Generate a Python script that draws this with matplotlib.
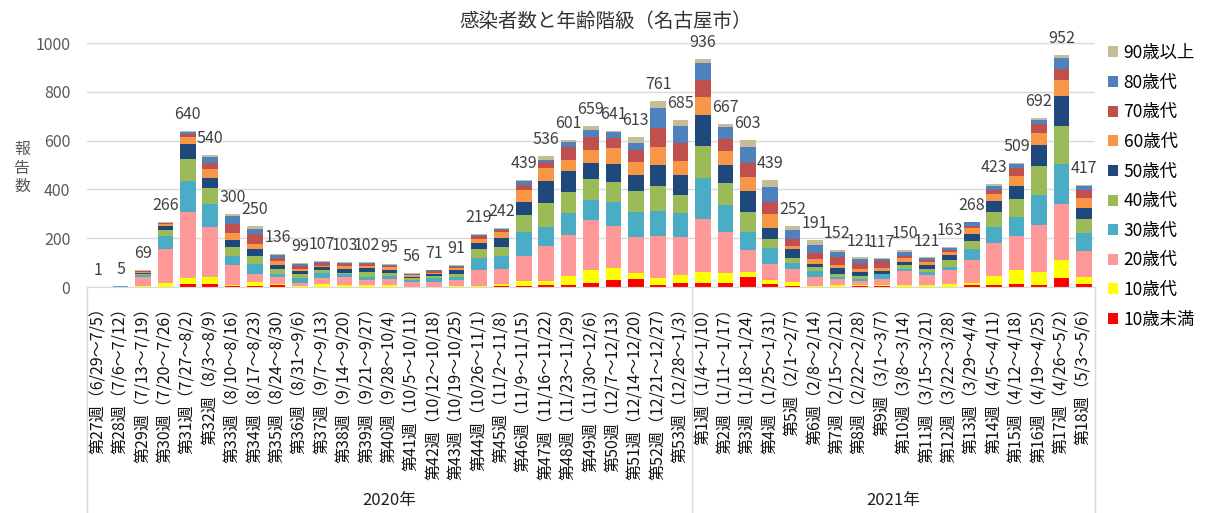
import matplotlib
matplotlib.use("Agg")
import matplotlib.pyplot as plt
import numpy as np

plt.rcParams['font.family'] = ['Noto Sans CJK JP', 'DejaVu Sans']

# week labels
weeks_2020 = ["第27週（6/29～7/5）", "第28週（7/6～7/12）", "第29週（7/13～7/19）", "第30週（7/20～7/26）",
              "第31週（7/27～8/2）", "第32週（8/3～8/9）", "第33週（8/10～8/16）", "第34週（8/17～8/23）",
              "第35週（8/24～8/30）", "第36週（8/31～9/6）", "第37週（9/7～9/13）", "第38週（9/14～9/20）",
              "第39週（9/21～9/27）", "第40週（9/28～10/4）", "第41週（10/5～10/11）", "第42週（10/12～10/18）",
              "第43週（10/19～10/25）", "第44週（10/26～11/1）", "第45週（11/2～11/8）", "第46週（11/9～11/15）",
              "第47週（11/16～11/22）", "第48週（11/23～11/29）", "第49週（11/30～12/6）", "第50週（12/7～12/13）",
              "第51週（12/14～12/20）", "第52週（12/21～12/27）", "第53週（12/28～1/3）"]
weeks_2021 = ["第1週（1/4～1/10）", "第2週（1/11～1/17）", "第3週（1/18～1/24）", "第4週（1/25～1/31）",
              "第5週（2/1～2/7）", "第6週（2/8～2/14）", "第7週（2/15～2/21）", "第8週（2/22～2/28）",
              "第9週（3/1～3/7）", "第10週（3/8～3/14）", "第11週（3/15～3/21）", "第12週（3/22～3/28）",
              "第13週（3/29～4/4）", "第14週（4/5～4/11）", "第15週（4/12～4/18）", "第16週（4/19～4/25）",
              "第17週（4/26～5/2）", "第18週（5/3～5/6）"]

# counts by age group (bottom to top)
u10 = [0, 0, 0, 1, 11, 12, 3, 5, 7, 1, 1, 1, 1, 1, 0, 0, 1, 1, 5, 3, 8, 8, 15, 29, 31, 7, 15,
       16, 16, 40, 11, 4, 1, 1, 5, 4, 1, 1, 1, 8, 7, 11, 10, 37, 11]
a10 = [0, 0, 4, 15, 26, 27, 4, 14, 7, 2, 11, 7, 7, 7, 1, 2, 2, 4, 7, 21, 15, 36, 53, 48, 27, 29, 33,
       44, 40, 22, 16, 16, 5, 6, 5, 4, 8, 6, 12, 7, 40, 58, 53, 73, 29]
a20 = [1, 1, 36, 138, 270, 205, 83, 36, 29, 13, 24, 31, 19, 25, 18, 17, 24, 64, 63, 105, 143, 168, 205, 172, 145, 175, 156,
       218, 169, 88, 67, 54, 36, 25, 15, 26, 57, 42, 56, 97, 133, 142, 193, 230, 109]
a30 = [0, 2, 8, 56, 129, 96, 38, 40, 10, 19, 22, 15, 16, 14, 11, 18, 14, 49, 51, 97, 78, 93, 85, 100, 105, 101, 100,
       170, 111, 74, 64, 23, 22, 11, 7, 18, 7, 11, 14, 45, 64, 74, 121, 163, 71]
a40 = [0, 2, 7, 25, 90, 64, 36, 34, 19, 19, 11, 5, 19, 10, 8, 10, 14, 38, 38, 69, 101, 86, 86, 82, 84, 103, 74,
       128, 90, 82, 40, 22, 16, 12, 14, 3, 16, 12, 29, 32, 63, 77, 119, 155, 59]
a50 = [0, 0, 3, 14, 62, 44, 30, 27, 18, 10, 12, 16, 16, 14, 5, 5, 14, 26, 38, 55, 88, 84, 64, 75, 67, 86, 79,
       130, 73, 89, 42, 37, 15, 21, 14, 12, 14, 19, 19, 29, 44, 53, 86, 126, 45]
a60 = [0, 0, 4, 8, 27, 36, 26, 21, 15, 11, 7, 11, 10, 10, 5, 7, 8, 16, 22, 48, 56, 44, 55, 64, 52, 74, 60,
       74, 60, 56, 60, 14, 19, 14, 14, 11, 15, 12, 14, 22, 30, 40, 48, 64, 41]
a70 = [0, 0, 3, 4, 14, 25, 37, 40, 15, 10, 12, 10, 7, 7, 3, 5, 7, 12, 10, 19, 23, 53, 52, 41, 49, 75, 75,
       67, 48, 59, 47, 26, 25, 32, 23, 27, 10, 8, 8, 11, 15, 33, 40, 47, 32]
a80 = [0, 0, 2, 3, 7, 25, 32, 22, 11, 11, 4, 4, 4, 4, 3, 4, 4, 5, 5, 18, 10, 21, 29, 23, 32, 82, 66,
       73, 49, 63, 62, 38, 34, 23, 19, 8, 14, 7, 5, 14, 19, 15, 15, 42, 15]
a90 = [0, 0, 2, 2, 4, 6, 11, 11, 5, 3, 3, 3, 3, 3, 2, 3, 3, 4, 3, 4, 14, 8, 15, 7, 21, 29, 27,
       16, 11, 30, 30, 18, 18, 7, 5, 4, 8, 3, 5, 3, 8, 6, 7, 15, 5]

totals = [1, 5, 69, 266, 640, 540, 300, 250, 136, 99, 107, 103, 102, 95, 56, 71, 91, 219, 242, 439, 536,
          601, 659, 641, 613, 761, 685, 936, 667, 603, 439, 252, 191, 152, 121, 117, 150, 121, 163, 268,
          423, 509, 692, 952, 417]

groups = ["10歳未満", "10歳代", "20歳代", "30歳代", "40歳代", "50歳代", "60歳代", "70歳代", "80歳代", "90歳以上"]
series = [u10, a10, a20, a30, a40, a50, a60, a70, a80, a90]
colors = ["#FF0000", "#FFFF00", "#FF9999", "#4BACC6", "#9BBB59", "#1F497D",
          "#F79646", "#C0504D", "#4F81BD", "#C4BD97"]

labels = weeks_2020 + weeks_2021
x = np.arange(len(labels))

fig = plt.figure(figsize=(12.1, 5.13), dpi=100)
ax = fig.add_axes([87 / 1210, 1 - 287 / 513, (1095 - 87) / 1210, (287 - 43) / 513])

bottom = np.zeros(len(x))
handles = []
for name, vals, c in zip(groups, series, colors):
    b = ax.bar(x, vals, 0.7, bottom=bottom, color=c, label=name, linewidth=0)
    handles.append(b)
    bottom += np.array(vals)

for i, t in enumerate(totals):
    ax.annotate(str(t), (x[i], bottom[i]), xytext=(0, 8.6), textcoords='offset points',
                ha='center', va='baseline', fontsize=11.5, color='#404040')

ax.set_xlim(-0.5, len(x) - 0.5)
ax.set_ylim(0, 1000)
ax.set_yticks(range(0, 1001, 200))
ax.yaxis.grid(True, color='#d9d9d9', linewidth=1)
ax.set_axisbelow(True)
for s in ['top', 'right', 'left']:
    ax.spines[s].set_visible(False)
ax.spines['bottom'].set_color('#d9d9d9')
ax.tick_params(axis='y', length=0, pad=12, labelsize=11.5, labelcolor='#595959')
ax.set_xticks(x)
ax.set_xticklabels(labels, rotation=90, fontsize=11.5, color='#111111')
ax.tick_params(axis='x', length=0, pad=9)

# year separators and labels under the category axis
tr = ax.get_xaxis_transform()
ybot = (287 - 513) / 244
for xv in [-0.5, 26.5, len(x) - 0.5]:
    ax.plot([xv, xv], [0, ybot], transform=tr, color='#d9d9d9', lw=1, clip_on=False)
ax.text(13, (287 - 501) / 244, "2020年", transform=tr, ha='center', va='center', fontsize=12, color='#222222')
ax.text(35.5, (287 - 501) / 244, "2021年", transform=tr, ha='center', va='center', fontsize=12, color='#222222')

fig.text(606 / 1210, 1 - 21 / 513, "感染者数と年齢階級（名古屋市）", ha='center', va='center',
         fontsize=14, color='#333333')
fig.text(22 / 1210, 1 - 168 / 513, "報\n告\n数", ha='center', va='center', fontsize=11.5,
         color='#595959', linespacing=1.1)

fig.legend(handles[::-1], groups[::-1], loc='upper left', bbox_to_anchor=(1108 / 1210, 1 - 44 / 513),
           frameon=False, fontsize=12.5, handlelength=0.6, handleheight=0.6, handletextpad=0.3,
           labelspacing=0.67, borderpad=0, borderaxespad=0)

fig.savefig("out.png", dpi=100)
